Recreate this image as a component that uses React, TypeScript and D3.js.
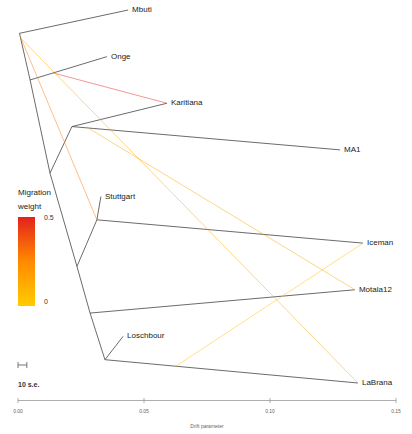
import React from "react";
import * as d3 from "d3";

// Tips (vertical order 0..8)
const tipNames = ["Mbuti", "Onge", "Karitiana", "MA1", "Stuttgart", "Iceman", "Motala12", "Loschbour", "LaBrana"];
const tipDrift = [0.0437, 0.0353, 0.0591, 0.1278, 0.0329, 0.1369, 0.1337, 0.0417, 0.1349];
const tipPos = [0, 1, 2, 3, 4, 5, 6, 7, 8];

// Internal nodes
const nodeNames = ["R", "N1", "N3", "N2", "N5", "N4", "N6", "N7"];
const nodeDrift = [0.0006, 0.0048, 0.0214, 0.0127, 0.0313, 0.0234, 0.0286, 0.0345];
const nodePos = [0.5, 1.5, 2.5, 3.5, 4.5, 5.5, 6.5, 7.5];

// Tree edges parent -> child
const edgeParent = ["R", "R", "N1", "N1", "N2", "N3", "N3", "N2", "N4", "N5", "N5", "N4", "N6", "N6", "N7", "N7"];
const edgeChild = ["Mbuti", "N1", "Onge", "N2", "N3", "Karitiana", "MA1", "N4", "N5", "Stuttgart", "Iceman", "N6", "Motala12", "N7", "Loschbour", "LaBrana"];

// Migration edges: source on edge (parent->child at fraction) to target node
const migFromParent = ["N1", "R", "R", "N3", "N7"];
const migFromChild = ["Onge", "N1", "N1", "MA1", "LaBrana"];
const migFrac = [0.3, 0.06, 0.1, 0.06, 0.28];
const migTo = ["Karitiana", "N5", "LaBrana", "Motala12", "Iceman"];
const migWeight = [0.48, 0.3, 0.15, 0.15, 0.05];

const axisTicks = [0, 0.05, 0.1, 0.15];
const axisTickLabels = ["0.00", "0.05", "0.10", "0.15"];
const legendLabels = ["0.5", "0"];
const seDrift = 0.0035;

export default function App() {
  const W = 412, H = 434;
  const x = d3.scaleLinear().domain([0, 0.15]).range([18, 396]);
  const y = d3.scaleLinear().domain([0, 8]).range([10, 383]);
  const col = d3.scaleLinear<string>().domain([0, 0.25, 0.5]).range(["#ffcc00", "#ff8a00", "#e4211c"]);

  const coords: Record<string, [number, number]> = {};
  tipNames.forEach((n, i) => (coords[n] = [x(tipDrift[i]), y(tipPos[i])]));
  nodeNames.forEach((n, i) => (coords[n] = [x(nodeDrift[i]), y(nodePos[i])]));

  const font = "'Liberation Sans', Arial, sans-serif";

  return (
    <svg width={W} height={H} style={{ position: "absolute", left: 0, top: 0, background: "#fff" }}>
      <defs>
        <linearGradient id="mg" x1="0" y1="0" x2="0" y2="1">
          <stop offset="0%" stopColor={col(0.5)} />
          <stop offset="50%" stopColor={col(0.25)} />
          <stop offset="100%" stopColor={col(0)} />
        </linearGradient>
      </defs>
      {/* tree edges */}
      {edgeParent.map((p, i) => {
        const a = coords[p], b = coords[edgeChild[i]];
        return <line key={"e" + i} x1={a[0]} y1={a[1]} x2={b[0]} y2={b[1]} stroke="#505050" strokeWidth={0.85} />;
      })}
      {/* migration edges */}
      {migFromParent.map((p, i) => {
        const a = coords[p], b = coords[migFromChild[i]];
        const sx = a[0] + (b[0] - a[0]) * migFrac[i];
        const sy = a[1] + (b[1] - a[1]) * migFrac[i];
        const t = coords[migTo[i]];
        return (
          <line key={"m" + i} x1={sx} y1={sy} x2={t[0]} y2={t[1]} stroke={col(migWeight[i])} strokeWidth={0.8} strokeOpacity={0.6} />
        );
      })}
      {/* tip labels */}
      {tipNames.map((n, i) => (
        <text key={"t" + i} x={x(tipDrift[i]) + 4} y={y(tipPos[i])} dominantBaseline="middle" fontSize={8} fontFamily={font} fill="#222">
          {n}
        </text>
      ))}
      {/* legend */}
      <text x={18} y={195} fontSize={8} fontFamily={font} fill="#222">Migration</text>
      <text x={18} y={209} fontSize={8} fontFamily={font} fill="#222">weight</text>
      <rect x={18} y={217} width={17} height={89} fill="url(#mg)" />
      <text x={44} y={220} fontSize={7} fontFamily={font} fill="#333">{legendLabels[0]}</text>
      <text x={44} y={304} fontSize={7} fontFamily={font} fill="#333">{legendLabels[1]}</text>
      {/* s.e. scale bar */}
      <g stroke="#555" strokeWidth={0.8}>
        <line x1={x(0)} x2={x(seDrift)} y1={365} y2={365} />
        <line x1={x(0)} x2={x(0)} y1={362} y2={368} />
        <line x1={x(seDrift)} x2={x(seDrift)} y1={362} y2={368} />
      </g>
      <text x={18} y={387} fontSize={7} fontFamily={font} fill="#333" fontWeight="bold">10 s.e.</text>
      {/* axis */}
      <line x1={x(0)} x2={x(0.15)} y1={400.5} y2={400.5} stroke="#999" strokeWidth={0.8} />
      {axisTicks.map((t, i) => (
        <g key={"a" + i}>
          <line x1={x(t)} x2={x(t)} y1={398} y2={403} stroke="#999" strokeWidth={0.8} />
          <text x={x(t)} y={413} fontSize={5} fontFamily={font} fill="#666" textAnchor="middle">{axisTickLabels[i]}</text>
        </g>
      ))}
      <text x={207} y={428} fontSize={5} fontFamily={font} fill="#666" textAnchor="middle">Drift parameter</text>
    </svg>
  );
}
